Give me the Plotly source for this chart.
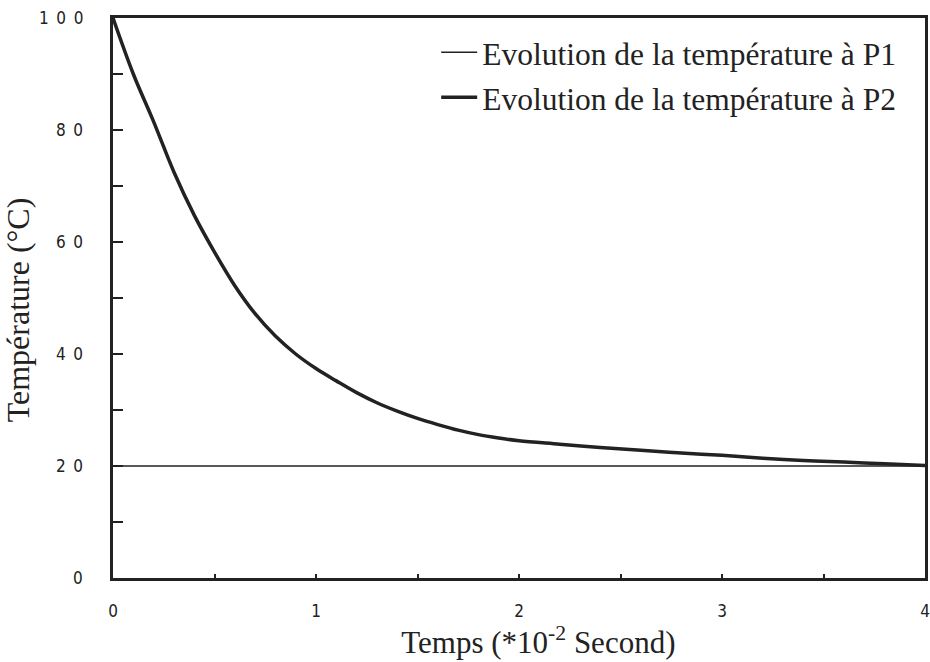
import plotly.graph_objects as go

# Time axis in units of 1e-2 s
time_p1 = [0.0, 4.0]
temp_p1 = [20.0, 20.0]

time_p2 = [0.0, 0.1, 0.2, 0.3, 0.4, 0.5, 0.6, 0.7, 0.8, 0.9, 1.0, 1.1, 1.2, 1.3,
           1.4, 1.5, 1.6, 1.7, 1.8, 1.9, 2.0, 2.2, 2.4, 2.6, 2.8, 3.0, 3.2, 3.4,
           3.6, 3.8, 4.0]
temp_p2 = [100.0, 90.0, 81.5, 72.5, 64.8, 58.2, 52.2, 47.2, 43.2, 40.0, 37.4,
           35.2, 33.1, 31.3, 29.8, 28.5, 27.4, 26.4, 25.6, 25.0, 24.5, 23.9,
           23.3, 22.8, 22.3, 21.9, 21.4, 21.0, 20.7, 20.4, 20.1]

y_ticks = [0, 20, 40, 60, 80, 100]
x_ticks = [0, 1, 2, 3, 4]

series_names = ["Evolution de la température à P1",
                "Evolution de la température à P2"]

INK = "#222222"
SERIF = "Liberation Serif, Times New Roman, serif"
TICKFONT = "DejaVu Sans Condensed, Liberation Sans Narrow, DejaVu Sans"
ZWSP = "\u200b"

fig = go.Figure()
fig.add_trace(go.Scatter(x=time_p1, y=temp_p1, mode="lines", name=series_names[0],
                         legendgroup="p1",
                         line=dict(color=INK, width=1.5)))
fig.add_trace(go.Scatter(x=time_p2, y=temp_p2, mode="lines", name=series_names[1],
                         legendgroup="p2",
                         line=dict(color=INK, width=3.5, shape="spline", smoothing=1.0)))

# y tick labels, set well clear of the axis line at each tick value
for v in y_ticks:
    fig.add_annotation(
        x=0, xref="paper", y=v, yref="y", xanchor="right", yanchor="middle",
        xshift=-28, showarrow=False, text="\u2002".join(str(v)),
        font=dict(family=TICKFONT, size=17, color=INK),
    )

fig.update_layout(
    width=930, height=662,
    margin=dict(l=113, r=5, t=18, b=84),
    paper_bgcolor="white", plot_bgcolor="white",
    showlegend=True,
    legend=dict(x=0.398, y=0.987, xanchor="left", yanchor="top",
                bgcolor="rgba(0,0,0,0)", traceorder="grouped", tracegroupgap=1,
                itemwidth=36,
                font=dict(family=SERIF, size=31.5, color=INK)),
)

fig.update_xaxes(
    range=[0, 4], showgrid=False, zeroline=False, automargin=False,
    showline=True, linecolor=INK, linewidth=2.5, mirror=True,
    tickmode="array", tickvals=x_ticks, ticktext=[str(v) for v in x_ticks],
    ticks="inside", ticklen=4, tickwidth=1.5, tickcolor=INK,
    minor=dict(dtick=0.5, ticks="inside", ticklen=4, tickwidth=1.5, tickcolor=INK),
    ticklabelstandoff=16,
    tickfont=dict(family=TICKFONT, size=17, color=INK),
    title=dict(text=ZWSP + "\u2003\u2005Temps (*10<sup>-2</sup> Second)", standoff=8,
               font=dict(family=SERIF, size=31, color=INK)),
)
fig.update_yaxes(
    range=[0, 100], showgrid=False, zeroline=False, automargin=False,
    showline=True, linecolor=INK, linewidth=2.5, mirror=True,
    tickmode="array", tickvals=y_ticks, showticklabels=False,
    ticks="inside", ticklen=10, tickwidth=1.5, tickcolor=INK,
    minor=dict(dtick=10, ticks="inside", ticklen=10, tickwidth=1.5, tickcolor=INK),
    title=dict(text="Température (°C)\u2002\u2005" + ZWSP, standoff=74,
               font=dict(family=SERIF, size=32, color=INK)),
)

fig.write_html("out.html")
